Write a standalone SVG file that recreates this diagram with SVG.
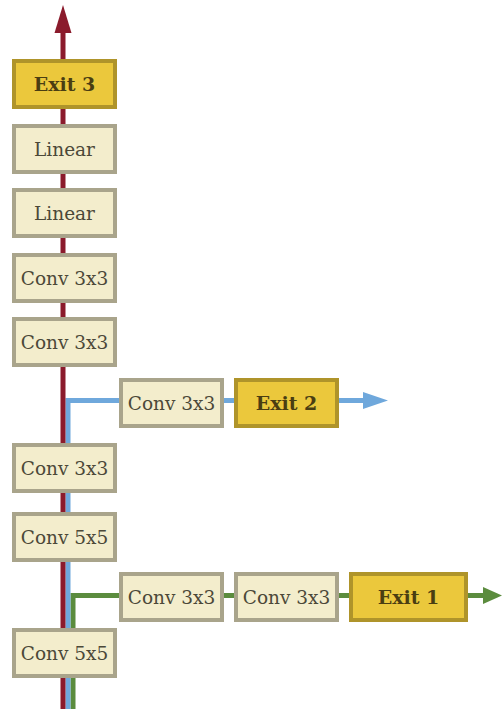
<svg xmlns="http://www.w3.org/2000/svg" width="502" height="709" viewBox="0 0 502 709">
  <style>
    .box { fill: #F3EDCC; stroke: #A9A48B; stroke-width: 4; }
    .exit { fill: #EBC83C; stroke: #AF942A; stroke-width: 4; }
    .lbl { font-family: "DejaVu Serif", "Liberation Serif", serif; font-size: 18.5px; fill: #4B4838; text-anchor: middle; }
    .elbl { font-family: "DejaVu Serif", "Liberation Serif", serif; font-size: 19px; font-weight: bold; fill: #4A3E12; text-anchor: middle; }
    .wire { fill: none; stroke-width: 5; }
  </style>

  <rect width="502" height="709" fill="#FFFFFF"/>

  <!-- connectors -->
  <g id="connectors">
    <!-- exit 1 branch -->
    <path class="wire" stroke="#5B8C3E" d="M73,709 V595.5 H485"/>
    <path d="M483,587 L502,595.5 L483,604 Z" fill="#5B8C3E"/>
    <!-- exit 2 branch -->
    <path class="wire" stroke="#6FA8DC" d="M68,709 V400.5 H365"/>
    <path d="M363,392 L388,400.5 L363,409 Z" fill="#6FA8DC"/>
    <!-- backbone to exit 3 -->
    <path class="wire" stroke="#8B1B2C" d="M63,709 V30"/>
    <path d="M54.5,33 L63,5 L71.5,33 Z" fill="#8B1B2C"/>
  </g>

  <!-- backbone -->
  <g id="exit3"><rect class="exit" x="14" y="61" width="101" height="46"/><text class="elbl" x="64.5" y="90.5">Exit 3</text></g>
  <g id="linear2"><rect class="box" x="14" y="126" width="101" height="46"/><text class="lbl" x="64.5" y="155.5">Linear</text></g>
  <g id="linear1"><rect class="box" x="14" y="190" width="101" height="46"/><text class="lbl" x="64.5" y="219.5">Linear</text></g>
  <g id="conv3x3_d"><rect class="box" x="14" y="255" width="101" height="46"/><text class="lbl" x="64.5" y="284.5">Conv 3x3</text></g>
  <g id="conv3x3_c"><rect class="box" x="14" y="319" width="101" height="46"/><text class="lbl" x="64.5" y="348.5">Conv 3x3</text></g>
  <g id="conv3x3_b"><rect class="box" x="14" y="445" width="101" height="46"/><text class="lbl" x="64.5" y="474.5">Conv 3x3</text></g>
  <g id="conv5x5_b"><rect class="box" x="14" y="514" width="101" height="46"/><text class="lbl" x="64.5" y="543.5">Conv 5x5</text></g>
  <g id="conv5x5_a"><rect class="box" x="14" y="630" width="101" height="46"/><text class="lbl" x="64.5" y="659.5">Conv 5x5</text></g>

  <!-- exit 2 branch -->
  <g id="b2_conv"><rect class="box" x="121" y="380" width="101" height="46"/><text class="lbl" x="171.5" y="409.5">Conv 3x3</text></g>
  <g id="exit2"><rect class="exit" x="236" y="380" width="101" height="46"/><text class="elbl" x="286.5" y="409.5">Exit 2</text></g>

  <!-- exit 1 branch -->
  <g id="b1_conv1"><rect class="box" x="121" y="574" width="101" height="46"/><text class="lbl" x="171.5" y="603.5">Conv 3x3</text></g>
  <g id="b1_conv2"><rect class="box" x="236" y="574" width="101" height="46"/><text class="lbl" x="286.5" y="603.5">Conv 3x3</text></g>
  <g id="exit1"><rect class="exit" x="351" y="574" width="115" height="46"/><text class="elbl" x="408.5" y="603.5">Exit 1</text></g>
</svg>
